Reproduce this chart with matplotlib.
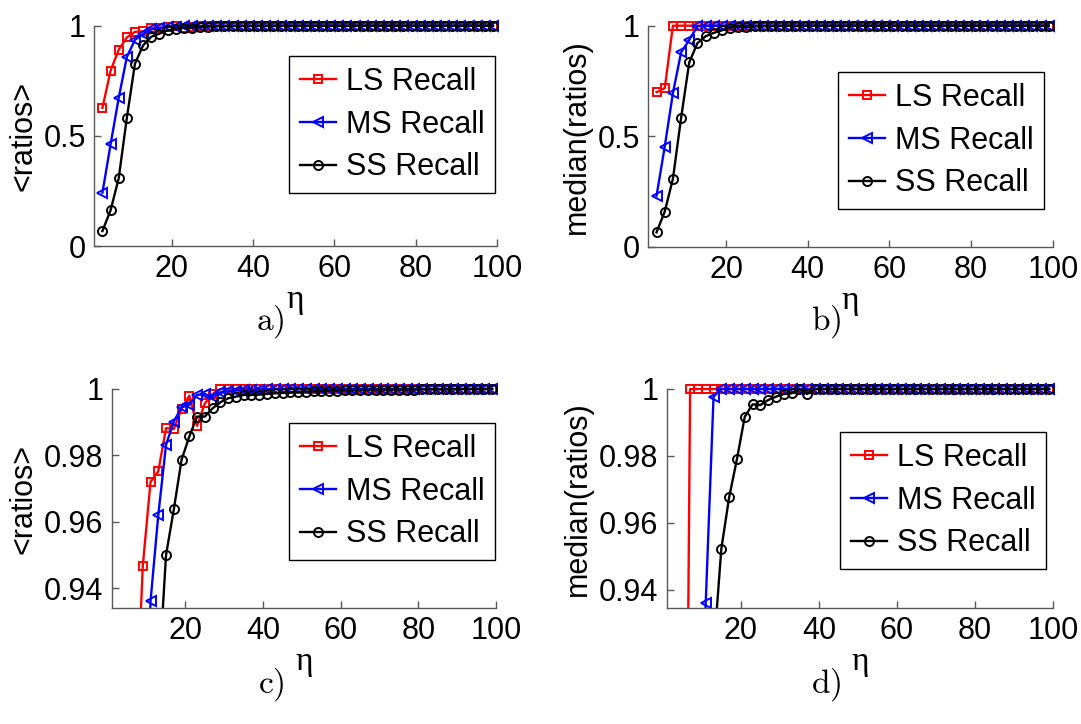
import matplotlib
matplotlib.use('Agg')
import matplotlib.pyplot as plt
from matplotlib.transforms import Bbox, TransformedBbox

# eta values (x axis), odd steps from 3 to 99
eta = list(range(3, 100, 2))

# mean of ratios
mean_ls = [0.627, 0.796, 0.891, 0.9466, 0.972, 0.9752, 0.9882, 0.9879, 0.9940, 0.998,
           0.9889, 0.9957, 0.9985, 1.0] + [1.0] * 35
mean_ms = [0.242, 0.461, 0.672, 0.858, 0.936, 0.962, 0.9832, 0.9902, 0.9945, 0.9952,
           0.9982, 0.9985, 0.9975, 0.999, 0.9993, 0.9995, 0.9997, 0.9998, 0.9998, 0.9999] + [1.0] * 29
mean_ss = [0.068, 0.162, 0.307, 0.582, 0.828, 0.911, 0.950, 0.9637, 0.9787, 0.9857,
           0.9917, 0.9917, 0.9942, 0.996, 0.9972, 0.9977, 0.9982, 0.9982, 0.9983, 0.9985,
           0.9987, 0.9988, 0.999, 0.9991, 0.9992, 0.9993, 0.9994, 0.9995, 0.9995, 0.9996,
           0.9996, 0.9997, 0.9997, 0.9998] + [0.9998] * 5 + [0.9999] * 5 + [1.0] * 5

# median of ratios
med_ls = [0.699, 0.7175] + [1.0] * 47
med_ms = [0.231, 0.453, 0.695, 0.879, 0.936, 0.9977] + [1.0] * 43
med_ss = [0.065, 0.159, 0.307, 0.582, 0.834, 0.921, 0.9522, 0.9676, 0.979, 0.9917,
          0.9954, 0.9952, 0.9967, 0.9977, 0.9985, 0.9987, 1.0, 0.9985] + [1.0] * 31

labels = ['LS Recall', 'MS Recall', 'SS Recall']

plt.rcParams['font.family'] = ['Liberation Sans', 'DejaVu Sans']
plt.rcParams['mathtext.fontset'] = 'cm'

W, H = 1081.0, 724.0
fig = plt.figure(figsize=(10.81, 7.24), dpi=100)

def box(l, r, t, b):
    return [l / W, 1 - b / H, (r - l) / W, (b - t) / H]

panels = [
    (box(94.3, 497, 25.7, 246), (mean_ls, mean_ms, mean_ss), '<ratios>', (0, 1),
     [0, 0.5, 1], ['0', '0.5', '1'], (289, 56), 'a)', (270, 322)),
    (box(648.4, 1052.8, 25.7, 246.7), (med_ls, med_ms, med_ss), 'median(ratios)', (0, 1),
     [0, 0.5, 1], ['0', '0.5', '1'], (838, 72), 'b)', (826, 322)),
    (box(111.7, 496, 389, 608), (mean_ls, mean_ms, mean_ss), '<ratios>', (0.934, 1.0),
     [0.94, 0.96, 0.98, 1], ['0.94', '0.96', '0.98', '1'], (289, 423), 'c)', (271, 685)),
    (box(666.7, 1053, 389, 608), (med_ls, med_ms, med_ss), 'median(ratios)', (0.9345, 1.0),
     [0.94, 0.96, 0.98, 1], ['0.94', '0.96', '0.98', '1'], (840, 432), 'd)', (826, 685)),
]

for rect, (ls, ms, ss), ylab, ylim, yt, ytl, lpos, cap, cpos in panels:
    ax = fig.add_axes(rect)
    # clip at the bottom like matlab, but let markers sitting on y=1 show fully
    clip = TransformedBbox(Bbox([[0, 0], [1.03, 1.08]]), ax.transAxes)
    l1, = ax.plot(eta, ls, '-s', color='red', lw=1.7, ms=5.5, mfc='none', mew=1.4, label=labels[0])
    l2, = ax.plot(eta, ms, '-<', color='blue', lw=1.7, ms=7.5, mfc='none', mew=1.4, label=labels[1])
    l3, = ax.plot(eta, ss, '-o', color='black', lw=1.7, ms=6.5, mfc='none', mew=1.4, label=labels[2])
    for ln in (l1, l2, l3):
        ln.set_clip_box(clip)
    ax.set_xlim(1, 100)
    ax.set_ylim(*ylim)
    ax.set_xticks([20, 40, 60, 80, 100])
    ax.set_yticks(yt)
    ax.set_yticklabels(ytl)
    for s in ['top', 'right']:
        ax.spines[s].set_visible(False)
    for s in ['left', 'bottom']:
        ax.spines[s].set_color('0.35')
        ax.spines[s].set_linewidth(1.0)
    ax.tick_params(direction='in', length=5, width=1, color='0.35', labelsize=22, pad=6)
    ax.set_xlabel('η', fontsize=24, family='Liberation Serif', labelpad=0)
    ax.set_ylabel(ylab, fontsize=22, labelpad=4)
    leg = ax.legend(loc='upper left', bbox_to_anchor=(lpos[0] / W, 1 - lpos[1] / H),
                    bbox_transform=fig.transFigure, fontsize=22, fancybox=False,
                    edgecolor='black', framealpha=1, handlelength=1.2, handletextpad=0.3,
                    labelspacing=0.42, borderpad=0.35, borderaxespad=0)
    leg.get_frame().set_linewidth(1.0)
    fig.text(cpos[0] / W, 1 - cpos[1] / H, r'$\mathrm{' + cap + '}$', fontsize=24,
             ha='center', va='center')

fig.savefig('out.png', dpi=100)
